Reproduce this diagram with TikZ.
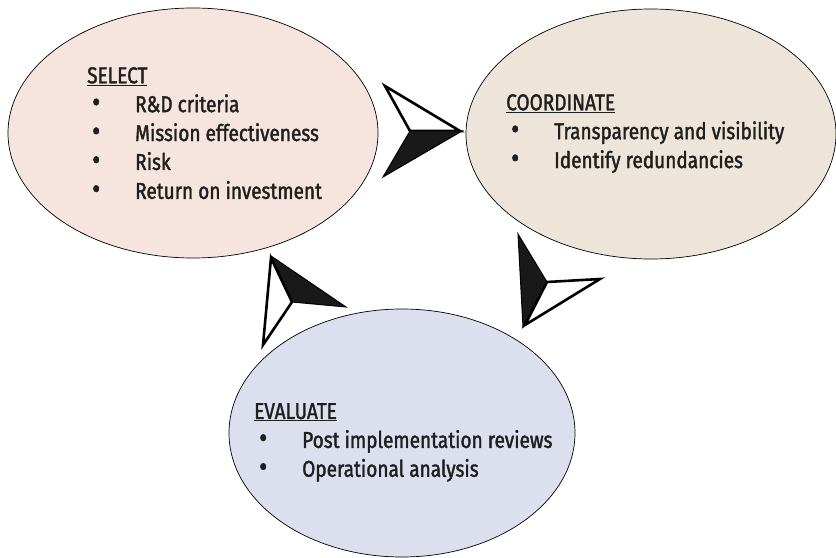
\documentclass[tikz,border=0pt]{standalone}
\usepackage{fontspec}
\setmainfont{Fira Sans}[FakeStretch=0.83, FakeBold=1.6]
\usetikzlibrary{shapes.geometric}

\definecolor{selectfill}{HTML}{F6E4DE}
\definecolor{coordfill}{HTML}{EDE5D9}
\definecolor{evalfill}{HTML}{DCE0EE}

% one bullet line inside an ellipse
\newcommand{\bulletline}[1]{\makebox[48bp][l]{\hspace{5bp}\scalebox{1.3}{\textbullet}}#1}

\tikzset{
  phase/.style={ellipse, draw=black, line width=0.7pt, inner sep=0pt,
    minimum width=370bp, minimum height=250bp},
  phasetext/.style={anchor=north west, inner sep=0pt, align=left,
    font=\fontsize{23}{29}\selectfont, text=black!88},
  whitehalf/.style={draw=black, fill=white, line width=2.6pt, line join=miter},
  blackhalf/.style={draw=black, fill=black!90, line width=1pt, line join=miter}
}

\begin{document}
\begin{tikzpicture}[x=1bp, y=-1bp]
    \useasboundingbox (0,0) rectangle (836,558);

    % the three phases
    \node[phase, fill=selectfill] (select) at (193,133) {};
    \node[phase, fill=coordfill] (coordinate) at (651,134) {};
    \node[phase, fill=evalfill, minimum width=346bp, minimum height=248bp] (evaluate) at (402,433) {};

    \node[phasetext] (selecttext) at (87,67) {\underline{SELECT}\\
        \bulletline{R\&D criteria}\\
        \bulletline{Mission effectiveness}\\
        \bulletline{Risk}\\
        \bulletline{Return on investment}};
    \node[phasetext] (coordtext) at (506,94) {\underline{COORDINATE}\\
        \bulletline{Transparency and visibility}\\
        \bulletline{Identify redundancies}};
    \node[phasetext] (evaltext) at (254,403) {\underline{EVALUATE}\\
        \bulletline{Post implementation reviews}\\
        \bulletline{Operational analysis}};

    % Arrows between the phases
    \draw[whitehalf] (385,86) -- (460,131) -- (410,131) -- cycle; % select to coordinate
    \draw[blackhalf] (410,131) -- (462,131) -- (383,177) -- cycle;

    \draw[blackhalf] (547,282) -- (523,327) -- (518,234) -- cycle; % coordinate to evaluate
    \draw[whitehalf] (547,282) -- (600,279) -- (525,325) -- cycle;

    \draw[blackhalf] (292,302) -- (271,256) -- (346,307) -- cycle; % evaluate to select
    \draw[whitehalf] (292,302) -- (271,258) -- (263,345) -- cycle;
\end{tikzpicture}
\end{document}
